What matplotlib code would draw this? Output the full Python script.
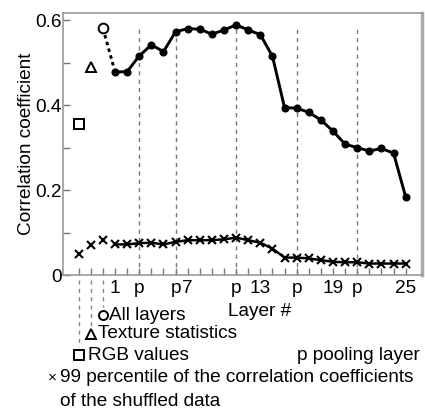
import matplotlib
matplotlib.use("Agg")
import matplotlib.pyplot as plt

plt.rcParams['font.family'] = ['Liberation Sans', 'DejaVu Sans']
plt.rcParams['font.size'] = 13.7

# layer positions (1..25), pooling layers, extra points left of layer 1
layers = list(range(1, 26))
pool_layers = [3, 6, 11, 16, 21]
corr = [0.478, 0.479, 0.516, 0.542, 0.526, 0.573, 0.580, 0.579, 0.567, 0.577,
        0.589, 0.577, 0.566, 0.515, 0.394, 0.393, 0.383, 0.365, 0.339, 0.308,
        0.300, 0.292, 0.298, 0.287, 0.184]
shuffled = [0.072, 0.072, 0.075, 0.076, 0.072, 0.078, 0.082, 0.082, 0.082, 0.084,
            0.088, 0.082, 0.076, 0.062, 0.041, 0.041, 0.039, 0.035, 0.031, 0.030,
            0.030, 0.027, 0.027, 0.027, 0.027]

extra_x = [-2, -1, 0]                 # RGB, texture, all layers
extra_names = ['RGB values', 'Texture statistics', 'All layers']
extra_markers = ['s', '^', 'o']
extra_corr = [0.355, 0.489, 0.581]
extra_shuffled = [0.049, 0.070, 0.082]

tick_pos = [1, 3, 6, 7, 11, 13, 16, 19, 21, 25]
tick_lbl = ['1', 'p', 'p', '7', 'p', '13', 'p', '19', 'p', '25']

W, H = 425, 412
fig = plt.figure(figsize=(W / 100, H / 100), dpi=100)
ax = fig.add_axes([63 / W, 1 - 275 / H, 359 / W, 262 / H])

for p in pool_layers:
    ax.plot([p, p], [0, 0.588], color='#777777', lw=1, ls=(0, (3, 3)), zorder=1)

ax.plot(layers, corr, color='black', lw=2.1, marker='o', ms=4.8, zorder=3)
ax.plot([extra_x[2], layers[0]], [extra_corr[2], corr[0]], color='black',
        lw=2.1, ls=(0, (1.2, 1.2)), zorder=2)
for x, y, m in zip(extra_x, extra_corr, extra_markers):
    ax.plot(x, y, marker=m, ms=7, mfc='white', mec='black', mew=1.4, zorder=4)

ax.plot(layers, shuffled, color='black', lw=1.8, marker='x', ms=6, mew=1.5, zorder=3)
ax.plot(extra_x, extra_shuffled, ls='none', color='black', marker='x', ms=6, mew=1.5)

ax.set_xlim(-3.3, 26.35)
ax.set_ylim(0, 0.617)
ax.set_xticks(tick_pos)
ax.set_xticklabels(tick_lbl)
ax.set_xticks(list(range(-2, 26)), minor=True)
ax.set_yticks([0, 0.2, 0.4, 0.6])
ax.set_yticklabels(['0', '0.2', '0.4', '0.6'])
ax.set_yticks([0.1, 0.3, 0.5], minor=True)
ax.tick_params(which='both', direction='in', length=5, width=1, color='#777777')
ax.tick_params(axis='x', which='both', pad=3.5)
ax.tick_params(axis='y', which='both', pad=1)
for s in ['left', 'bottom', 'top']:
    ax.spines[s].set_color('#999999')
    ax.spines[s].set_linewidth(1.2)
ax.spines['right'].set_color('#aaaaaa')
ax.spines['right'].set_linewidth(2.5)

ax.set_ylabel('Correlation coefficient', labelpad=0)
ax.text((260 - 63) / 359, (275 - 311) / 262, 'Layer #', transform=ax.transAxes,
        ha='center', va='center')

# key below the axes, hanging from the extra points
tr = ax.get_xaxis_transform()
key_y = [355, 334, 315]
line_end = [347, 327, 307]
text_x = [88, 98, 109]
for x, m, name, ky, le, tx in zip(extra_x, extra_markers, extra_names, key_y, line_end, text_x):
    ax.plot([x, x], [-0.02, (275 - le) / 262], transform=tr, clip_on=False,
            color='#888888', lw=1, ls=(0, (3, 3)))
    ax.plot(x, (275 - ky) / 262, transform=tr, clip_on=False, marker=m, ms=6.5,
            mfc='white', mec='black', mew=1.4)
    fig.text(tx / W, 1 - ky / H, name, ha='left', va='center')

fig.text(297 / W, 1 - 355 / H, 'p pooling layer', ha='left', va='center')
fig.text(52 / W, 1 - 378 / H, '×', ha='center', va='center', fontsize=11)
fig.text(60 / W, 1 - 378 / H, '99 percentile of the correlation coefficients',
         ha='left', va='center')
fig.text(60 / W, 1 - 402 / H, 'of the shuffled data', ha='left', va='center')

fig.savefig('out.png', dpi=100)
